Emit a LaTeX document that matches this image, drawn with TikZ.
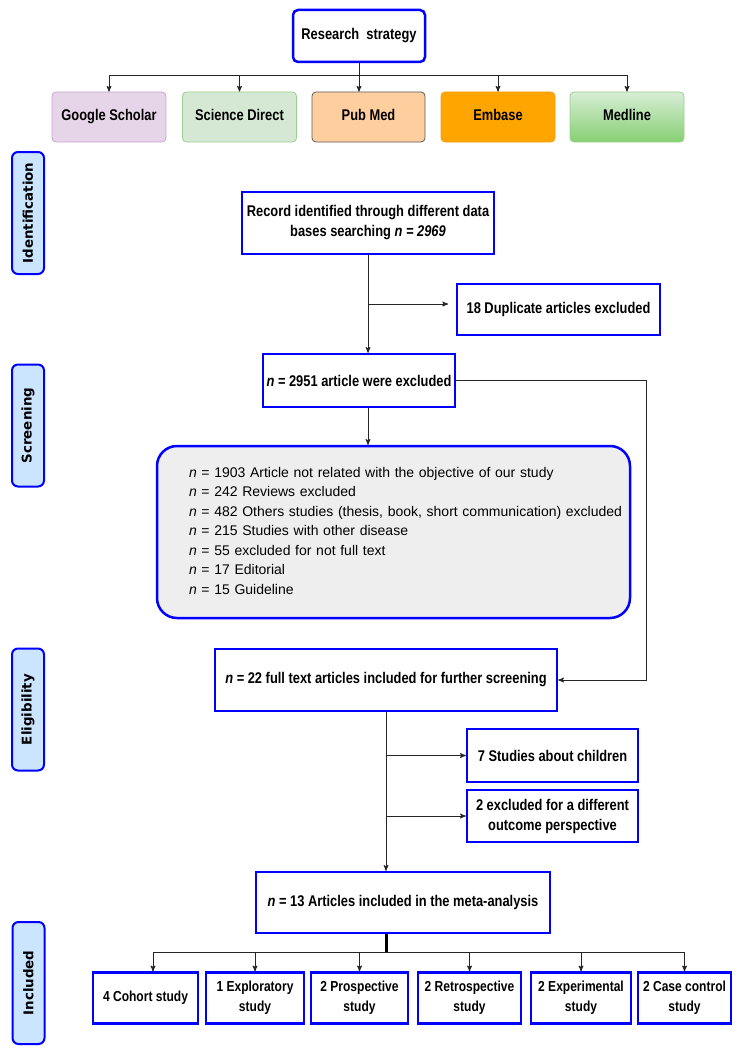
\documentclass[tikz,border=0pt]{standalone}
\usepackage{fontspec}
\setmainfont{Liberation Sans}
\newfontfamily\boxfont[FakeStretch=0.83]{Liberation Sans}
\newfontfamily\sidefont{DejaVu Sans}
\usepackage{tikz}
\usepackage{xcolor}
\usetikzlibrary{arrows, positioning, calc}

\definecolor{phasefill}{HTML}{CCE5FF}
\definecolor{gsfill}{HTML}{E6D5E8}
\definecolor{gsdraw}{HTML}{C9A6D2}
\definecolor{sdfill}{HTML}{D5E8D4}
\definecolor{sddraw}{HTML}{9CD08E}
\definecolor{pmfill}{HTML}{FFCE9F}
\definecolor{pmdraw}{HTML}{5A5A5A}
\definecolor{emfill}{HTML}{FFA500}
\definecolor{emdraw}{HTML}{F2A21C}
\definecolor{mltop}{HTML}{D8EDD6}
\definecolor{mlbot}{HTML}{86D073}
\definecolor{mldraw}{HTML}{9CD08E}
\definecolor{greyfill}{HTML}{EEEEEE}

\begin{document}
\begin{tikzpicture}[x=1pt, y=-1pt, >=stealth',
  bluebox/.style={draw=blue, line width=2.5pt, fill=white, inner sep=0pt, align=center, font=\boxfont\bfseries\fontsize{15.5}{20}\selectfont},
  studybox/.style={bluebox, minimum height=51pt, font=\boxfont\bfseries\fontsize{14.5}{20}\selectfont},
  dbbox/.style={rounded corners=4pt, line width=0.8pt, minimum width=114pt, minimum height=50pt, inner sep=0pt, text height=11pt, text depth=4pt, font=\boxfont\bfseries\fontsize{15.5}{20}\selectfont},
  phase/.style={draw=blue, line width=2pt, fill=phasefill, rounded corners=6pt, rotate=90, minimum width=122pt, minimum height=32pt, inner sep=0pt, font=\sidefont\bfseries\fontsize{13.4}{16}\selectfont},
  greybox/.style={draw=blue, line width=2.5pt, fill=greyfill, rounded corners=20pt, minimum width=473pt, minimum height=172pt, text width=473pt, inner xsep=0pt, align=left, font=\fontsize{14}{19.5}\selectfont},
  line/.style={line width=1pt, draw=black!85}]
\useasboundingbox (0,0) rectangle (743,1054);

% Search sources
\node[bluebox, rounded corners=5pt, minimum width=132pt, minimum height=52pt] (research) at (359,36) {Research\ \ strategy};
\node[dbbox, fill=gsfill, draw=gsdraw] (gs) at (109,117) {Google Scholar};
\node[dbbox, fill=sdfill, draw=sddraw] (sd) at (239.5,117) {Science Direct};
\node[dbbox, fill=pmfill, draw=pmdraw, minimum width=113pt] (pm) at (368.5,117) {Pub Med};
\node[dbbox, fill=emfill, draw=emdraw] (em) at (498,117) {Embase};
\node[dbbox, top color=mltop, bottom color=mlbot, draw=mldraw] (ml) at (627,117) {Medline};

\coordinate (topbus) at (359,76);
\draw[line] (research) -- (topbus);
\draw[line, ->] (research) -- (research |- pm.north);
\foreach \db in {gs, sd, em, ml}
  \draw[line, ->] (topbus) -| (\db.north);

% Phases
\node[phase] (phaseid) at (28,213) {Identification};
\node[phase] (phasescr) at (28,425.5) {Screening};
\node[phase] (phaseel) at (28,709.5) {Eligibility};
\node[phase] (phasein) at (28.5,983) {Included};

% Identification and screening
\node[bluebox, minimum width=252pt, minimum height=62pt] (record) at (368,223) {Record identified through different data\\bases searching \textit{n = 2969}};
\node[bluebox, minimum width=203pt, minimum height=51pt] (dup) at (558.5,309.5) {18 Duplicate articles excluded};
\node[bluebox, minimum width=192pt, minimum height=53pt] (excl) at (359,380.5) {\textit{n} = 2951 article were excluded};
\node[greybox] (reasons) at (393.5,532) {\hspace*{32pt}\begin{tabular}{@{}l@{}}
  \textit{n} = 1903 Article not related with the objective of our study\\
  \textit{n} = 242 Reviews excluded\\
  \textit{n} = 482 Others studies (thesis, book, short communication) excluded\\
  \textit{n} = 215 Studies with other disease\\
  \textit{n} = 55 excluded for not full text\\
  \textit{n} = 17 Editorial\\
  \textit{n} = 15 Guideline
  \end{tabular}};

\coordinate (dupin) at (448,304);
\coordinate (side) at (646,380.5);
\draw[line, ->] (record) -- (record |- excl.north);
\draw[line, ->] (record.south |- dupin) -- (dupin);
\draw[line, ->] (record.south |- excl.south) -- (record.south |- reasons.north);

% Eligibility
\node[bluebox, minimum width=342pt, minimum height=62pt] (full) at (386,680) {\textit{n} = 22 full text articles included for further screening};
\node[bluebox, minimum width=171pt, minimum height=53pt] (child) at (552.5,755.5) {7 Studies about children};
\node[bluebox, minimum width=171pt, minimum height=52pt] (outc) at (552.5,816) {2 excluded for a different\\outcome perspective};

\draw[line, ->] (excl.east) -- (side) |- (full.east);
\draw[line, ->] (full.south |- child.west) -- (child.west);
\draw[line, ->] (full.south |- outc.west) -- (outc.west);

% Included
\node[bluebox, minimum width=294pt, minimum height=61pt] (meta) at (403,902.5) {\textit{n} = 13 Articles included in the meta-analysis};
\node[studybox, minimum width=105pt] (cohort) at (145.5,998) {4 Cohort study};
\node[studybox, minimum width=98pt] (explo) at (255,998) {1 Exploratory\\study};
\node[studybox, minimum width=97pt] (prosp) at (359.5,998) {2 Prospective\\study};
\node[studybox, minimum width=103pt] (retro) at (469.5,998) {2 Retrospective\\study};
\node[studybox, minimum width=100pt] (exper) at (581,998) {2 Experimental\\study};
\node[studybox, minimum width=93pt] (casec) at (684.5,998) {2 Case control\\study};

\draw[line, ->] (full) -- (full |- meta.north);
\coordinate (lowbus) at (386,952);
\draw[line width=3pt] (full.south |- meta.south) -- (lowbus);
\draw[line, ->] (lowbus) -| ([xshift=7.5pt]cohort.north);
\foreach \st in {explo, prosp, retro, exper, casec}
  \draw[line, ->] (lowbus) -| (\st.north);
\end{tikzpicture}
\end{document}
